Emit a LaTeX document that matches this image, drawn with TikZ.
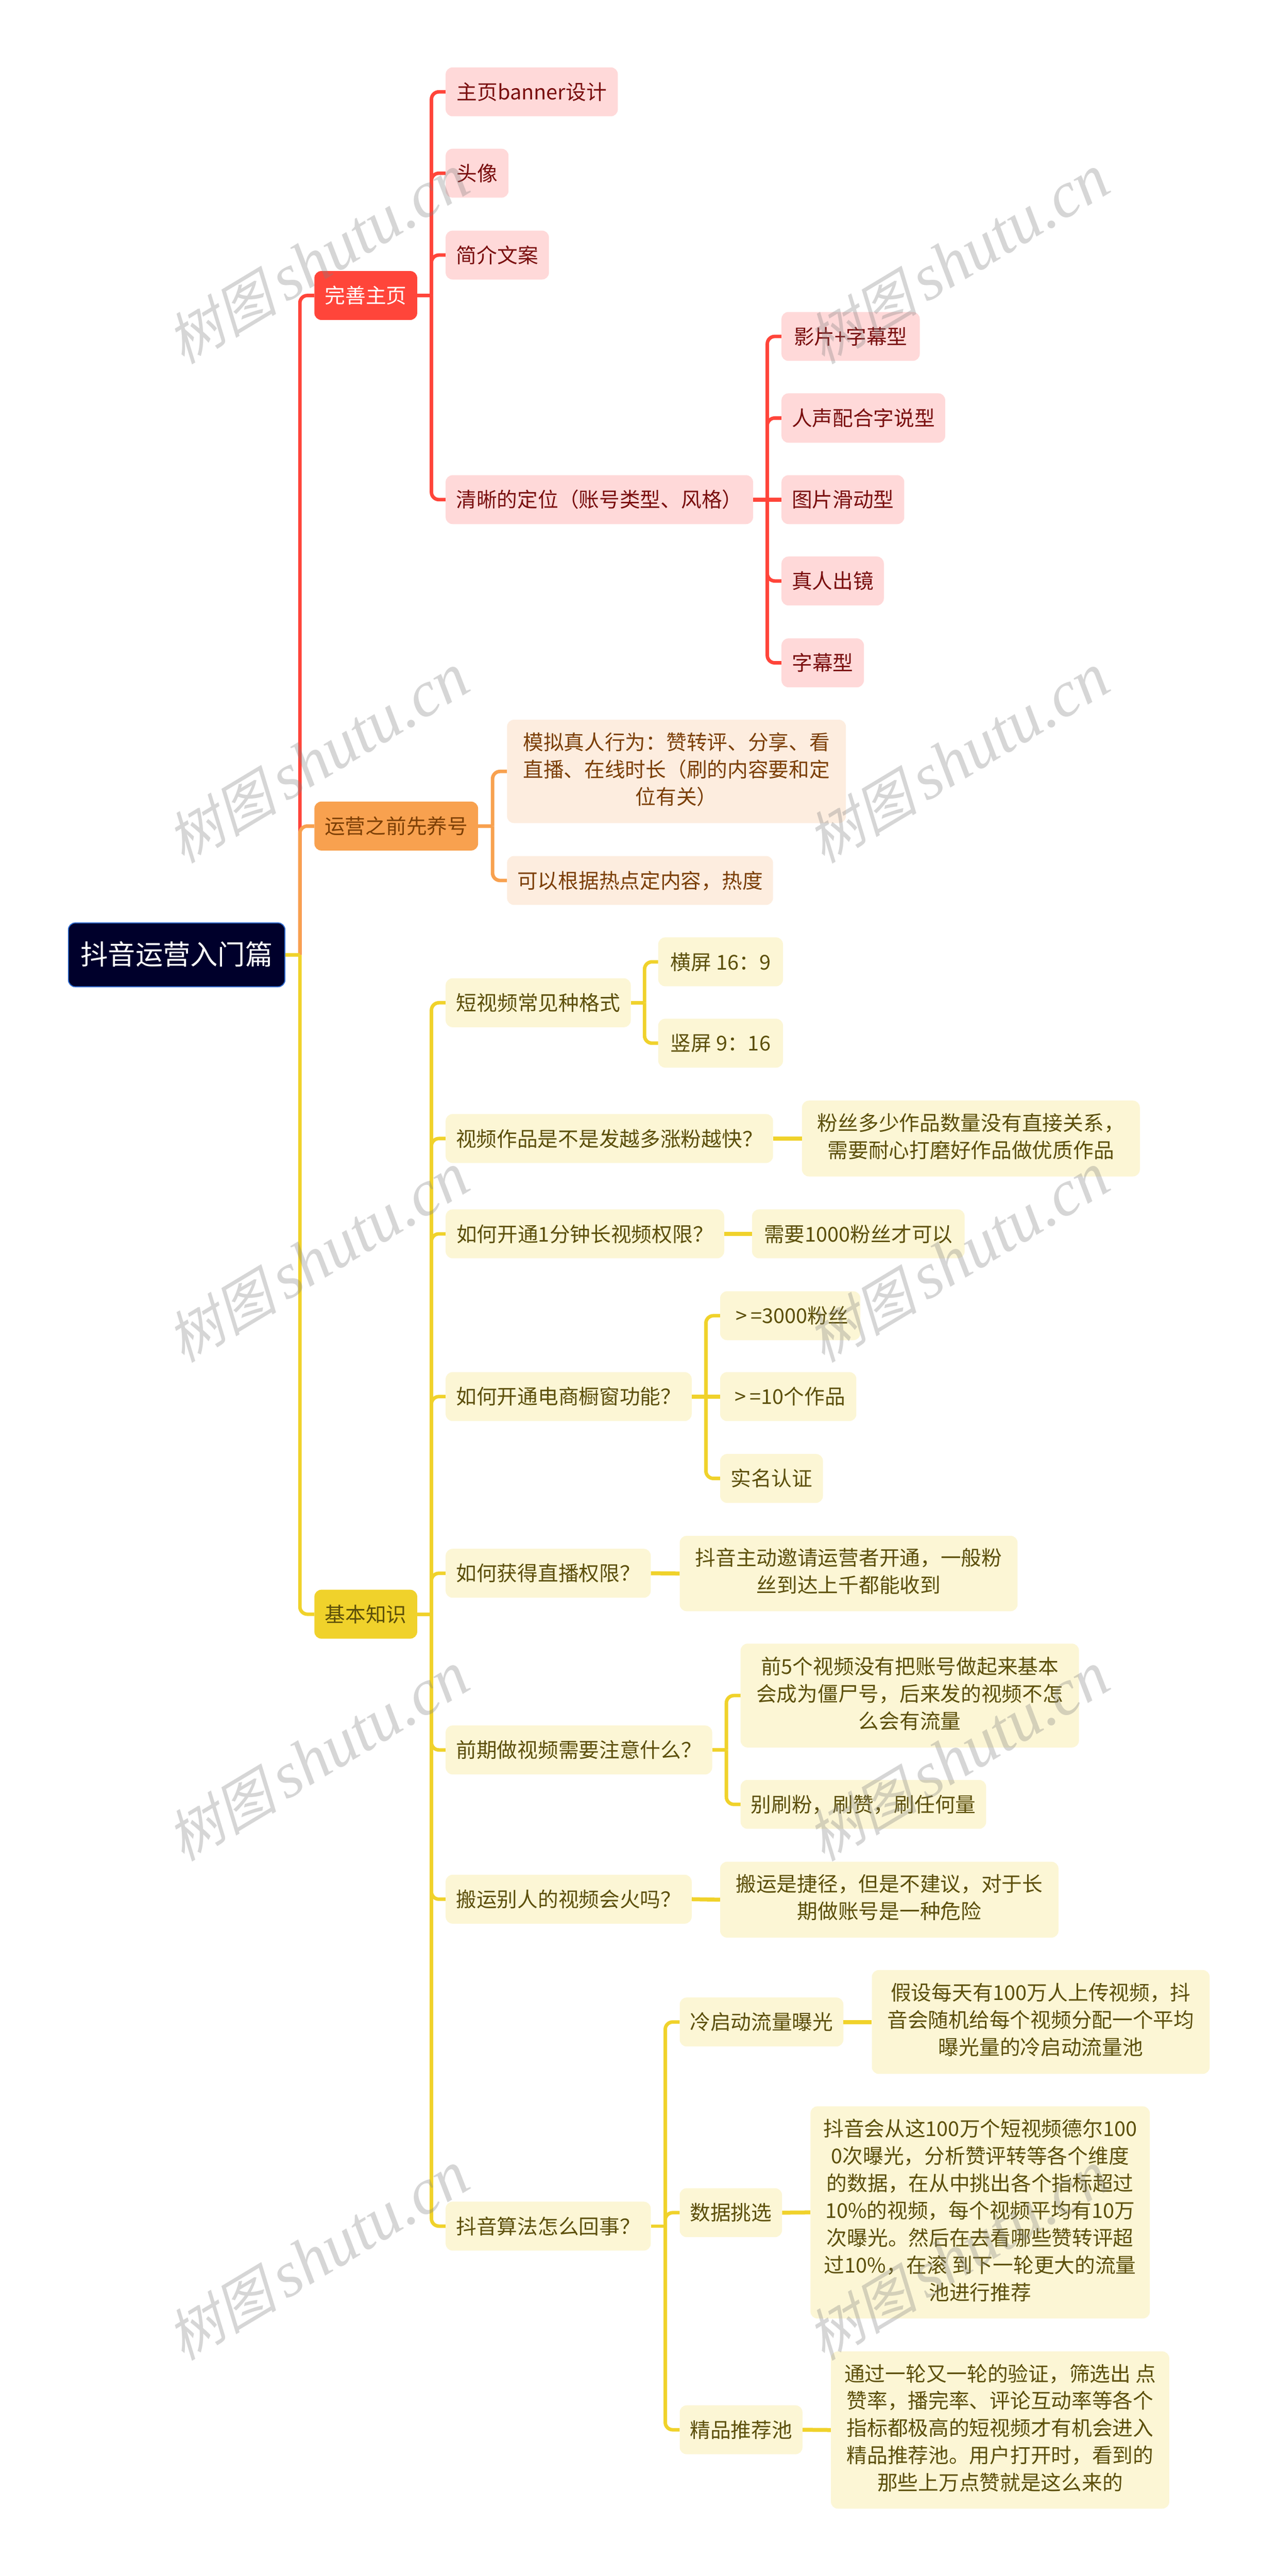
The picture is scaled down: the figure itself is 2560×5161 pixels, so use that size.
\documentclass[tikz,border=0pt]{standalone}
\usepackage{fontspec}
\setmainfont{Noto Sans CJK SC}
\newfontfamily\wmcjk[FakeSlant=0.25]{Noto Sans CJK SC}
\newfontfamily\wmlat{Liberation Serif}[ItalicFont=* Italic]
\usetikzlibrary{calc}
\definecolor{rootfill}{HTML}{00002B}
\definecolor{rootline}{HTML}{2F6BD0}
\definecolor{rmain}{HTML}{FF453A}
\definecolor{rlight}{HTML}{FFD9D9}
\definecolor{rtext}{HTML}{7A0E0E}
\definecolor{omain}{HTML}{F8A14F}
\definecolor{olight}{HTML}{FDEDDF}
\definecolor{otext}{HTML}{7C3F06}
\definecolor{ymain}{HTML}{F0D22B}
\definecolor{ylight}{HTML}{FCF6D5}
\definecolor{ytext}{HTML}{5C4F0A}
\newcommand\leafstrut{\rule[-.214\baselineskip]{0pt}{\baselineskip}}
\newcommand\rootstrut{\rule[-.183\baselineskip]{0pt}{\baselineskip}}
\tikzset{
  x=1pt,y=-1pt,
  basebox/.style={rounded corners=14pt,inner sep=0pt,align=center,
    font=\fontsize{41}{54.6}\selectfont,
    execute at begin node=\leafstrut,execute at end node=\leafstrut},
  rootbox/.style={basebox,fill=rootfill,draw=rootline,line width=2pt,text=white,
    font=\fontsize{55}{66}\selectfont,
    execute at begin node=\rootstrut,execute at end node=\rootstrut},
  rbranch/.style={basebox,fill=rmain,text=white},
  obranch/.style={basebox,fill=omain,text=otext},
  ybranch/.style={basebox,fill=ymain,text=ytext},
  rleaf/.style={basebox,fill=rlight,text=rtext},
  oleaf/.style={basebox,fill=olight,text=otext},
  yleaf/.style={basebox,fill=ylight,text=ytext},
  wire/.style={line width=7pt,draw=#1},
  stub/.style={line width=8pt,draw=#1},
  wmark/.style={rotate=31,text=black!50,text opacity=.32,inner sep=0pt}
}
% name, style, x0, x1, y0, y1, text
\newcommand\nd[7]{\node[#2,minimum width={(#4)-(#3)},minimum height={(#6)-(#5)}] (#1) at ({((#3)+(#4))/2},{((#5)+(#6))/2}) {#7};}
% colour, parent, child: through a vertical trunk, with a rounded bend at the child
\newcommand\con[3]{%
  \draw[wire=#1] (#2.east) -- ($(#2.east)!.5!(#2.east -| #3.west)$);
  \draw[wire=#1,rounded corners=15pt] ($(#2.east)!.5!(#2.east -| #3.west)$) |- (#3.west);}
% colour, parent, child at the same height: straight
\newcommand\cons[3]{\draw[stub=#1] (#2.east) -- (#3.west);}
\newcommand\wm[3]{\node[wmark] (#1) at (#2,#3) {\fontsize{112}{112}\selectfont\wmcjk 树图\hspace{18pt}\fontsize{130}{130}\selectfont\wmlat\itshape shutu.cn};}
\newcommand\gtsign{\makebox[37pt][c]{>}}
\begin{document}
\begin{tikzpicture}
\fill[white] (0,0) rectangle (2560,5161);
\useasboundingbox (0,0) rectangle (2560,5161);
\nd{root}{rootbox}{137}{571}{1849}{1977}{抖音运营入门篇}
\nd{a}{rbranch}{630}{836}{543}{641}{完善主页}
\nd{a1}{rleaf}{893}{1238}{135}{233}{主页banner设计}
\nd{a2}{rleaf}{893}{1019}{298}{396}{头像}
\nd{a3}{rleaf}{893}{1100}{462}{560}{简介文案}
\nd{a4}{rleaf}{893}{1509}{952}{1050}{清晰的定位（账号类型、风格）}
\nd{a41}{rleaf}{1566}{1843}{625}{723}{影片+字幕型}
\nd{a42}{rleaf}{1566}{1894}{788}{887}{人声配合字说型}
\nd{a43}{rleaf}{1566}{1812}{952}{1050}{图片滑动型}
\nd{a44}{rleaf}{1566}{1771}{1115}{1213}{真人出镜}
\nd{a45}{rleaf}{1566}{1731}{1279}{1377}{字幕型}
\nd{b}{obranch}{630}{958}{1606}{1704}{运营之前先养号}
\nd{b1}{oleaf}{1016}{1695}{1442}{1649}{模拟真人行为：赞转评、分享、看\\直播、在线时长（刷的内容要和定\\位有关）}
\nd{b2}{oleaf}{1016}{1549}{1715}{1813}{可以根据热点定内容，热度}
\nd{c}{ybranch}{630}{836}{3185}{3283}{基本知识}
\nd{c1}{yleaf}{893}{1264}{1960}{2058}{短视频常见种格式}
\nd{c11}{yleaf}{1319}{1569}{1878}{1976}{横屏 16：9}
\nd{c12}{yleaf}{1319}{1569}{2041}{2139}{竖屏 9：16}
\nd{c2}{yleaf}{893}{1549}{2232}{2330}{视频作品是不是发越多涨粉越快？}
\nd{c21}{yleaf}{1607}{2284}{2205}{2357}{粉丝多少作品数量没有直接关系，\\需要耐心打磨好作品做优质作品}
\nd{c3}{yleaf}{893}{1451}{2423}{2521}{如何开通1分钟长视频权限？}
\nd{c31}{yleaf}{1507}{1933}{2423}{2521}{需要1000粉丝才可以}
\nd{c4}{yleaf}{893}{1386}{2749}{2847}{如何开通电商橱窗功能？}
\nd{c41}{yleaf}{1443}{1724}{2587}{2685}{\gtsign=3000粉丝}
\nd{c42}{yleaf}{1443}{1716}{2749}{2847}{\gtsign=10个作品}
\nd{c43}{yleaf}{1443}{1649}{2913}{3011}{实名认证}
\nd{c5}{yleaf}{893}{1304}{3103}{3201}{如何获得直播权限？}
\nd{c51}{yleaf}{1362}{2039}{3077}{3228}{抖音主动邀请运营者开通，一般粉\\丝到达上千都能收到}
\nd{c6}{yleaf}{893}{1427}{3457}{3555}{前期做视频需要注意什么？}
\nd{c61}{yleaf}{1484}{2162}{3293}{3501}{前5个视频没有把账号做起来基本\\会成为僵尸号，后来发的视频不怎\\么会有流量}
\nd{c62}{yleaf}{1484}{1976}{3566}{3664}{别刷粉，刷赞，刷任何量}
\nd{c7}{yleaf}{893}{1386}{3756}{3854}{搬运别人的视频会火吗？}
\nd{c71}{yleaf}{1443}{2121}{3730}{3882}{搬运是捷径，但是不建议，对于长\\期做账号是一种危险}
\nd{c8}{yleaf}{893}{1304}{4411}{4509}{抖音算法怎么回事？}
\nd{c81}{yleaf}{1362}{1690}{4002}{4100}{冷启动流量曝光}
\nd{c811}{yleaf}{1747}{2424}{3947}{4155}{假设每天有100万人上传视频，抖\\音会随机给每个视频分配一个平均\\曝光量的冷启动流量池}
\nd{c82}{yleaf}{1362}{1567}{4384}{4482}{数据挑选}
\nd{c821}{yleaf}{1624}{2304}{4220}{4645}{抖音会从这100万个短视频德尔100\\0次曝光，分析赞评转等各个维度\\的数据，在从中挑出各个指标超过\\10\%的视频，每个视频平均有10万\\次曝光。然后在去看哪些赞转评超\\过10\%，在滚 到下一轮更大的流量\\池进行推荐}
\nd{c83}{yleaf}{1362}{1608}{4819}{4917}{精品推荐池}
\nd{c831}{yleaf}{1665}{2343}{4711}{5026}{通过一轮又一轮的验证，筛选出 点\\赞率，播完率、评论互动率等各个\\指标都极高的短视频才有机会进入\\精品推荐池。用户打开时，看到的\\那些上万点赞就是这么来的}
% connectors
\con{rmain}{root}{a}
\con{omain}{root}{b}
\con{ymain}{root}{c}
\foreach \k in {a1,a2,a3,a4} {\con{rmain}{a}{\k}}
\foreach \k in {a41,a42,a44,a45} {\con{rmain}{a4}{\k}}
\cons{rmain}{a4}{a43}
\foreach \k in {b1,b2} {\con{omain}{b}{\k}}
\foreach \k in {c1,c2,c3,c4,c5,c6,c7,c8} {\con{ymain}{c}{\k}}
\foreach \k in {c11,c12} {\con{ymain}{c1}{\k}}
\cons{ymain}{c2}{c21}
\cons{ymain}{c3}{c31}
\foreach \k in {c41,c43} {\con{ymain}{c4}{\k}}
\cons{ymain}{c4}{c42}
\cons{ymain}{c5}{c51}
\foreach \k in {c61,c62} {\con{ymain}{c6}{\k}}
\cons{ymain}{c7}{c71}
\foreach \k in {c81,c82,c83} {\con{ymain}{c8}{\k}}
\cons{ymain}{c81}{c811}
\cons{ymain}{c82}{c821}
\cons{ymain}{c83}{c831}
% watermarks
\wm{w1}{636}{520}\wm{w2}{1919}{520}
\wm{w3}{636}{1520}\wm{w4}{1919}{1520}
\wm{w5}{636}{2520}\wm{w6}{1919}{2520}
\wm{w7}{636}{3520}\wm{w8}{1919}{3520}
\wm{w9}{636}{4520}\wm{w10}{1919}{4520}
\end{tikzpicture}
\end{document}
